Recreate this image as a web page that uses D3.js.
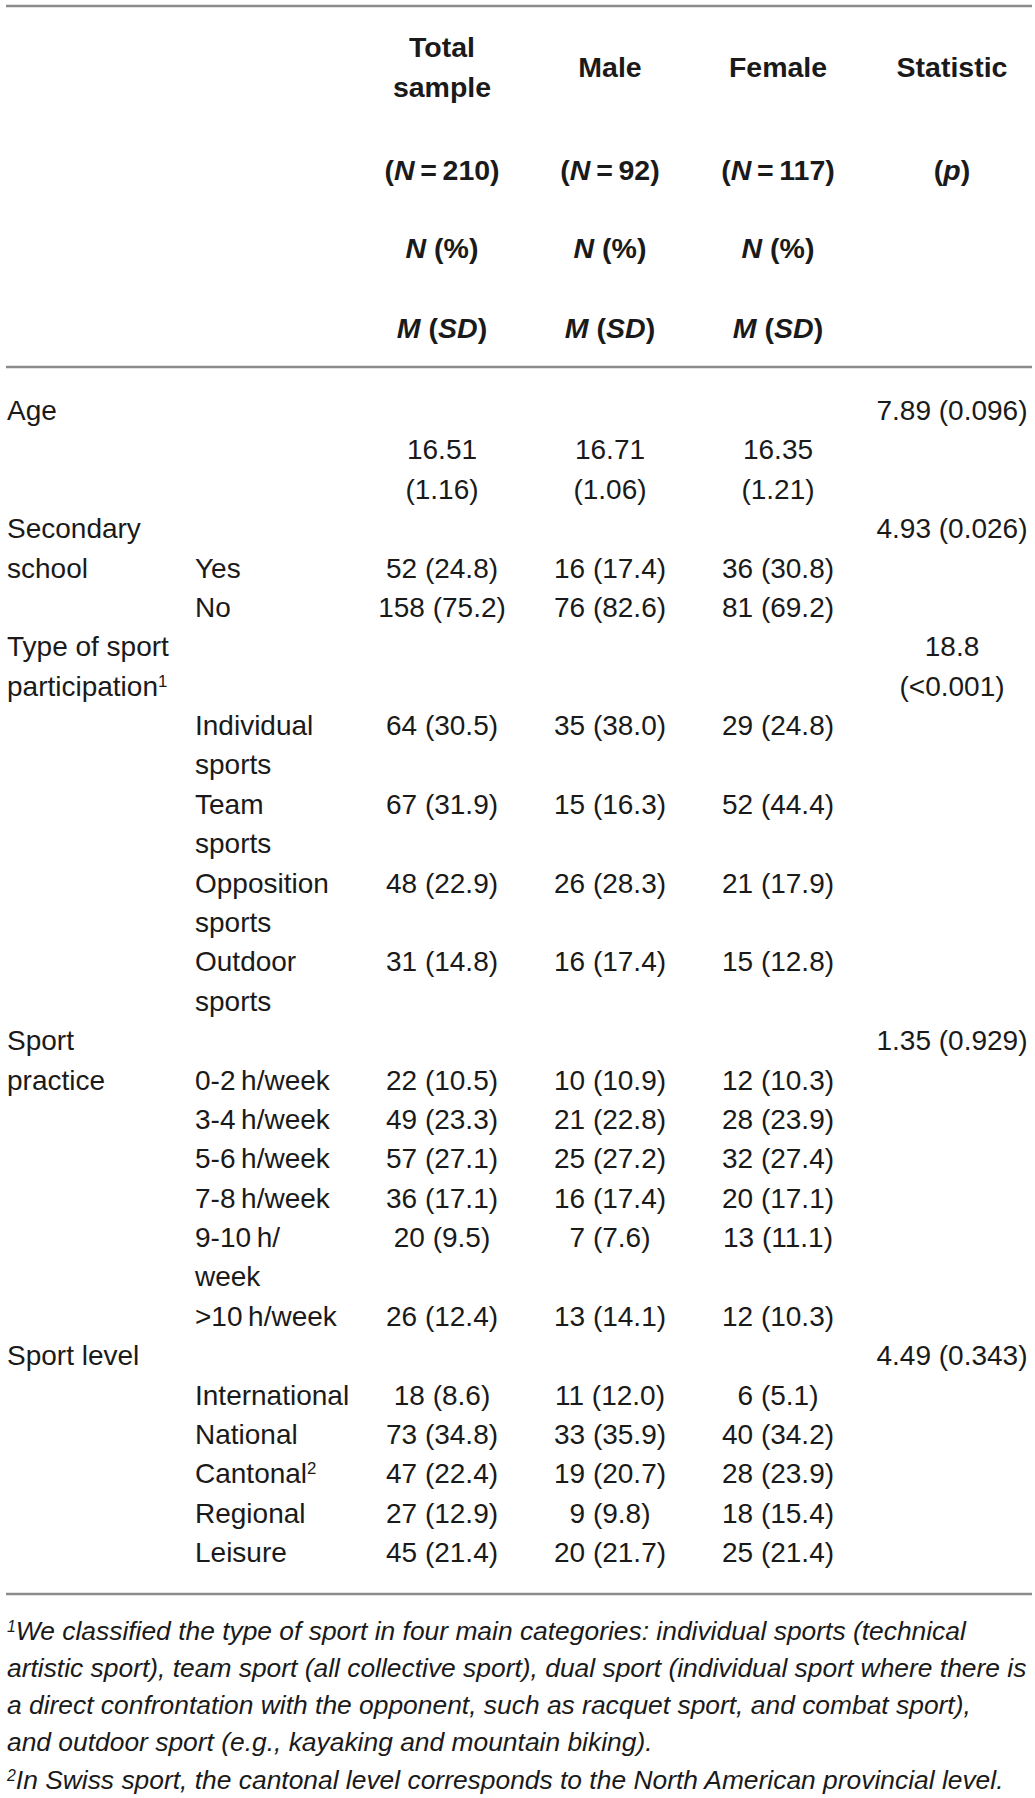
<!DOCTYPE html>
<html>
<head>
<meta charset="utf-8">
<script src="https://cdn.jsdelivr.net/npm/d3@7"></script>
<style>
  body { margin: 0; background: #fff; }
  text { font-family: "Liberation Sans", Arial, sans-serif; fill: #1a1a1a; }
</style>
</head>
<body>
<div id="table"></div>
<script>
// Table content
const headerTitles = [["Total", "sample"], ["Male"], ["Female"], ["Statistic"]];
const headerCounts = ["210", "92", "117"];

const variables = ["Age", "Secondary\nschool", "Type of sport\nparticipation^1", "Sport\npractice", "Sport level"];
const statistics = ["7.89 (0.096)", "4.93 (0.026)", "18.8\n(<0.001)", "1.35 (0.929)", "4.49 (0.343)"];
const categories = [
    [""],
    ["Yes", "No"],
    ["Individual\nsports", "Team\nsports", "Opposition\nsports", "Outdoor\nsports"],
    ["0-2\u2009h/week", "3-4\u2009h/week", "5-6\u2009h/week", "7-8\u2009h/week", "9-10\u2009h/\nweek", ">10\u2009h/week"],
    ["International", "National", "Cantonal^2", "Regional", "Leisure"]
];
const totalSample = [
    ["16.51\n(1.16)"],
    ["52 (24.8)", "158 (75.2)"],
    ["64 (30.5)", "67 (31.9)", "48 (22.9)", "31 (14.8)"],
    ["22 (10.5)", "49 (23.3)", "57 (27.1)", "36 (17.1)", "20 (9.5)", "26 (12.4)"],
    ["18 (8.6)", "73 (34.8)", "47 (22.4)", "27 (12.9)", "45 (21.4)"]
];
const maleValues = [
    ["16.71\n(1.06)"],
    ["16 (17.4)", "76 (82.6)"],
    ["35 (38.0)", "15 (16.3)", "26 (28.3)", "16 (17.4)"],
    ["10 (10.9)", "21 (22.8)", "25 (27.2)", "16 (17.4)", "7 (7.6)", "13 (14.1)"],
    ["11 (12.0)", "33 (35.9)", "19 (20.7)", "9 (9.8)", "20 (21.7)"]
];
const femaleValues = [
    ["16.35\n(1.21)"],
    ["36 (30.8)", "81 (69.2)"],
    ["29 (24.8)", "52 (44.4)", "21 (17.9)", "15 (12.8)"],
    ["12 (10.3)", "28 (23.9)", "32 (27.4)", "20 (17.1)", "13 (11.1)", "12 (10.3)"],
    ["6 (5.1)", "40 (34.2)", "28 (23.9)", "18 (15.4)", "25 (21.4)"]
];
const footnotes = [
    "^1We classified the type of sport in four main categories: individual sports (technical",
    "artistic sport), team sport (all collective sport), dual sport (individual sport where there is",
    "a direct confrontation with the opponent, such as racquet sport, and combat sport),",
    "and outdoor sport (e.g., kayaking and mountain biking).",
    "^2In Swiss sport, the cantonal level corresponds to the North American provincial level."
];

const width = 1035;
const height = 1798;
const fontSize = 28;

const svg = d3.select("#table")
    .append("svg")
    .attr("width", width)
    .attr("height", height);

// Column positions
const columns = ["variable", "category", "total", "male", "female", "stat"];
const xCol = d3.scaleOrdinal()
    .domain(columns)
    .range([7, 195, 442, 610, 778, 952]);
const anchorCol = d3.scaleOrdinal()
    .domain(columns)
    .range(["start", "start", "middle", "middle", "middle", "middle"]);

// Build body cells on a line grid
const cells = [];
let line = 0;
variables.forEach((v, g) => {
    const statLines = statistics[g].split("\n");
    cells.push({ col: "variable", line: line, lines: v.split("\n") });
    cells.push({ col: "stat", line: line, lines: statLines });
    line += statLines.length;
    categories[g].forEach((c, i) => {
        const row = [
            { col: "category", lines: c.split("\n") },
            { col: "total", lines: totalSample[g][i].split("\n") },
            { col: "male", lines: maleValues[g][i].split("\n") },
            { col: "female", lines: femaleValues[g][i].split("\n") }
        ];
        row.forEach(r => cells.push({ col: r.col, line: line, lines: r.lines }));
        line += d3.max(row, r => r.lines.length);
    });
});

const yLine = d3.scaleLinear()
    .domain([0, line - 1])
    .range([410, 1552]);

// Write a string that may hold a ^n superscript
function addText(sel, str) {
    const parts = str.split(/\^(\d)/);
    parts.forEach((p, i) => {
        if (p === "") return;
        if (i % 2 === 1) {
            sel.append("tspan")
                .attr("baseline-shift", "super")
                .attr("font-size", "0.6em")
                .text(p);
        } else {
            sel.append("tspan").text(p);
        }
    });
}

const body = svg.append("g").attr("font-size", fontSize);
cells.forEach(c => {
    c.lines.forEach((l, k) => {
        if (l === "") return;
        const t = body.append("text")
            .attr("x", xCol(c.col))
            .attr("y", yLine(c.line + k))
            .attr("dy", "0.36em")
            .attr("text-anchor", anchorCol(c.col));
        addText(t, l);
    });
});

// Header
const header = svg.append("g")
    .attr("font-size", 28.5)
    .attr("font-weight", "bold");
const headerCols = ["total", "male", "female", "stat"];

headerTitles.forEach((h, i) => {
    const mid = 67;
    h.forEach((l, k) => {
        header.append("text")
            .attr("x", xCol(headerCols[i]))
            .attr("y", mid + (k - (h.length - 1) / 2) * 40)
            .attr("dy", "0.36em")
            .attr("text-anchor", "middle")
            .text(l);
    });
});

headerCols.forEach((c, i) => {
    const t = header.append("text")
        .attr("x", xCol(c))
        .attr("y", 170)
        .attr("dy", "0.36em")
        .attr("text-anchor", "middle");
    t.append("tspan").text("(");
    if (i < headerCounts.length) {
        t.append("tspan").attr("font-style", "italic").text("N");
        t.append("tspan").text("\u2009=\u2009" + headerCounts[i] + ")");
    } else {
        t.append("tspan").attr("font-style", "italic").text("p");
        t.append("tspan").text(")");
    }
});

headerCols.slice(0, 3).forEach(c => {
    const t1 = header.append("text")
        .attr("x", xCol(c))
        .attr("y", 248)
        .attr("dy", "0.36em")
        .attr("text-anchor", "middle");
    t1.append("tspan").attr("font-style", "italic").text("N");
    t1.append("tspan").text(" (%)");

    const t2 = header.append("text")
        .attr("x", xCol(c))
        .attr("y", 328)
        .attr("dy", "0.36em")
        .attr("text-anchor", "middle");
    t2.append("tspan").attr("font-style", "italic").text("M");
    t2.append("tspan").text(" (");
    t2.append("tspan").attr("font-style", "italic").text("SD");
    t2.append("tspan").text(")");
});

// Rules
const rules = [6, 367, 1594];
svg.selectAll(".rule")
    .data(rules)
    .enter()
    .append("line")
    .attr("class", "rule")
    .attr("x1", 6)
    .attr("x2", 1032)
    .attr("y1", d => d)
    .attr("y2", d => d)
    .attr("stroke", "#8c8c8c")
    .attr("stroke-width", 2.5);

// Footnotes
const yNote = d3.scaleLinear()
    .domain([0, footnotes.length - 1])
    .range([1630, 1779]);
const notes = svg.append("g")
    .attr("font-size", 26.4)
    .attr("font-style", "italic");
footnotes.forEach((f, i) => {
    const t = notes.append("text")
        .attr("x", 7)
        .attr("y", yNote(i))
        .attr("dy", "0.36em");
    addText(t, f);
});
</script>
</body>
</html>
